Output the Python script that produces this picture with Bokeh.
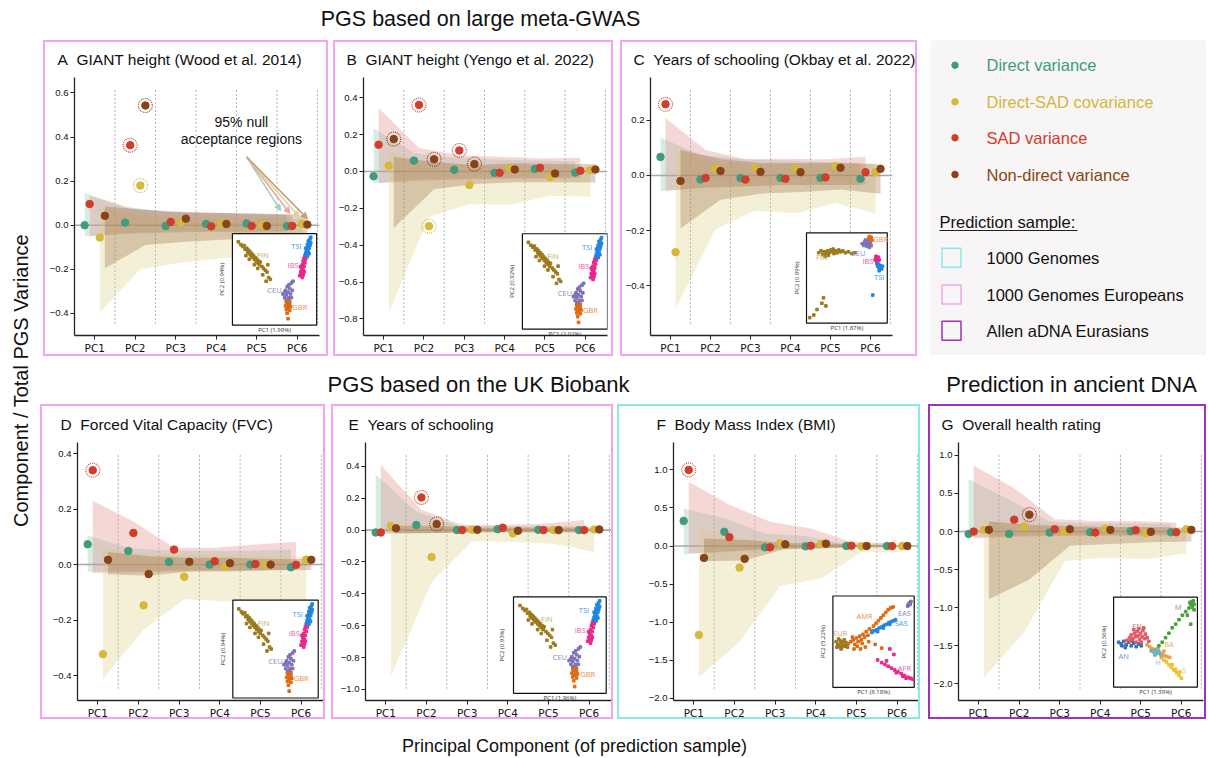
import math
from bokeh.plotting import figure
from bokeh.models import Range1d, FixedTicker, CustomJSTickFormatter, Span, Arrow, NormalHead, Spacer
from bokeh.layouts import row, column
from bokeh.embed import file_html
from bokeh.resources import INLINE
from bokeh.core.properties import value

# ---------------------------------------------------------------- data
PCS = [1, 2, 3, 4, 5, 6]
PC_LABELS = ["PC1", "PC2", "PC3", "PC4", "PC5", "PC6"]
SERIES = ["direct", "sad", "cov", "nondir"]
LEGEND_LABELS = ["Direct variance", "Direct-SAD covariance", "SAD variance", "Non-direct variance"]
SAMPLE_LABELS = ["1000 Genomes", "1000 Genomes Europeans", "Allen aDNA Eurasians"]

# Panel A  GIANT height (Wood et al. 2014)
A_direct = [0.0, 0.012, -0.003, 0.006, 0.008, -0.003]
A_sad = [0.096, 0.363, 0.015, -0.005, -0.003, -0.003]
A_cov = [-0.056, 0.18, 0.012, 0.008, 0.0, 0.006]
A_nondir = [0.043, 0.543, 0.03, 0.006, -0.003, 0.003]
A_direct_lo = [-0.05, -0.04, -0.035, -0.03, -0.03, -0.03]
A_direct_hi = [0.145, 0.085, 0.06, 0.055, 0.05, 0.05]
A_sad_lo = [-0.05, -0.035, -0.03, -0.03, -0.03, -0.025]
A_sad_hi = [0.135, 0.075, 0.06, 0.055, 0.055, 0.05]
A_cov_lo = [-0.395, -0.2, -0.17, -0.15, -0.14, -0.13]
A_cov_hi = [0.08, 0.045, 0.035, 0.03, 0.03, 0.03]
A_nondir_lo = [-0.195, -0.09, -0.075, -0.065, -0.06, -0.055]
A_nondir_hi = [0.085, 0.07, 0.06, 0.055, 0.05, 0.045]
A_sig = [("sad", 2), ("cov", 2), ("nondir", 2)]

# Panel B  GIANT height (Yengo et al. 2022)
B_direct = [-0.026, 0.059, 0.009, -0.007, 0.013, -0.006]
B_sad = [0.145, 0.361, 0.114, -0.007, 0.02, 0.004]
B_cov = [0.031, -0.297, -0.073, 0.018, -0.029, 0.007]
B_nondir = [0.176, 0.066, 0.04, 0.011, -0.011, 0.011]
B_direct_lo = [-0.063, -0.045, -0.04, -0.035, -0.035, -0.03]
B_direct_hi = [0.235, 0.1, 0.075, 0.065, 0.06, 0.055]
B_sad_lo = [-0.065, -0.05, -0.045, -0.04, -0.04, -0.035]
B_sad_hi = [0.345, 0.128, 0.088, 0.08, 0.071, 0.074]
B_cov_lo = [-0.765, -0.245, -0.178, -0.18, -0.132, -0.137]
B_cov_hi = [0.11, 0.04, 0.03, 0.03, 0.03, 0.025]
B_nondir_lo = [-0.307, -0.096, -0.068, -0.059, -0.058, -0.06]
B_nondir_hi = [0.079, 0.052, 0.035, 0.045, 0.04, 0.04]
B_sig = [("nondir", 1), ("sad", 2), ("cov", 2), ("nondir", 2), ("sad", 3), ("nondir", 3)]

# Panel C  Years of schooling (Okbay et al. 2022)
C_direct = [0.067, -0.015, -0.009, -0.009, -0.009, -0.012]
C_sad = [0.258, -0.009, -0.015, -0.012, -0.007, 0.012]
C_cov = [-0.278, 0.026, 0.028, 0.026, 0.034, 0.012]
C_nondir = [-0.02, 0.016, 0.013, 0.012, 0.028, 0.024]
C_direct_lo = [-0.057, -0.045, -0.04, -0.035, -0.035, -0.035]
C_direct_hi = [0.138, 0.075, 0.06, 0.055, 0.05, 0.045]
C_sad_lo = [-0.055, -0.045, -0.04, -0.035, -0.035, -0.035]
C_sad_hi = [0.208, 0.092, 0.059, 0.061, 0.059, 0.068]
C_cov_lo = [-0.486, -0.196, -0.127, -0.137, -0.1, -0.137]
C_cov_hi = [0.095, 0.045, 0.04, 0.04, 0.045, 0.045]
C_nondir_lo = [-0.192, -0.088, -0.066, -0.06, -0.051, -0.066]
C_nondir_hi = [0.093, 0.06, 0.045, 0.045, 0.045, 0.04]
C_sig = [("sad", 1)]

# Panel D  Forced Vital Capacity (FVC)
D_direct = [0.073, 0.049, 0.009, 0.0, 0.0, -0.01]
D_sad = [0.34, 0.114, 0.054, 0.012, 0.002, -0.001]
D_cov = [-0.323, -0.147, -0.044, -0.006, 0.0, 0.018]
D_nondir = [0.017, -0.034, 0.01, 0.005, 0.0, 0.017]
D_direct_lo = [-0.026, -0.025, -0.022, -0.02, -0.02, -0.02]
D_direct_hi = [0.106, 0.06, 0.05, 0.05, 0.05, 0.054]
D_sad_lo = [-0.03, -0.028, -0.025, -0.022, -0.022, -0.02]
D_sad_hi = [0.23, 0.155, 0.061, 0.061, 0.072, 0.082]
D_cov_lo = [-0.412, -0.235, -0.125, -0.132, -0.132, -0.13]
D_cov_hi = [0.061, 0.04, 0.035, 0.035, 0.03, 0.027]
D_nondir_lo = [-0.035, -0.04, -0.025, -0.025, -0.02, -0.02]
D_nondir_hi = [0.045, 0.03, 0.025, 0.025, 0.02, 0.02]
D_sig = [("sad", 1)]

# Panel E  Years of schooling (UK Biobank)
E_direct = [-0.015, 0.032, 0.0, 0.006, 0.002, 0.0]
E_sad = [-0.015, 0.205, 0.0, 0.015, 0.0, 0.0]
E_cov = [0.025, -0.169, 0.002, -0.021, 0.0, 0.004]
E_nondir = [0.011, 0.038, 0.002, -0.004, 0.0, 0.004]
E_direct_lo = [-0.021, -0.02, -0.015, -0.015, -0.015, -0.015]
E_direct_hi = [0.349, 0.116, 0.03, 0.025, 0.025, 0.025]
E_sad_lo = [-0.022, -0.02, -0.015, -0.015, -0.015, -0.015]
E_sad_hi = [0.408, 0.127, 0.032, 0.032, 0.04, 0.063]
E_cov_lo = [-0.92, -0.328, -0.07, -0.074, -0.085, -0.137]
E_cov_hi = [0.042, 0.03, 0.02, 0.02, 0.02, 0.02]
E_nondir_lo = [-0.02, -0.018, -0.012, -0.012, -0.012, -0.012]
E_nondir_hi = [0.027, 0.025, 0.015, 0.015, 0.015, 0.015]
E_sig = [("sad", 2), ("nondir", 2)]

# Panel F  Body Mass Index (BMI)
F_direct = [0.329, 0.187, -0.018, -0.004, 0.0, 0.0]
F_sad = [1.0, 0.116, -0.018, 0.004, 0.004, 0.0]
F_cov = [-1.169, -0.284, 0.036, 0.027, -0.004, 0.0]
F_nondir = [-0.156, -0.169, 0.022, 0.031, 0.0, 0.0]
F_direct_lo = [-0.111, -0.08, -0.05, -0.04, -0.02, -0.02]
F_direct_hi = [0.489, 0.364, 0.164, 0.129, 0.031, 0.03]
F_sad_lo = [-0.1, -0.07, -0.04, -0.03, -0.02, -0.02]
F_sad_hi = [0.844, 0.542, 0.32, 0.231, 0.053, 0.04]
F_cov_lo = [-1.724, -1.258, -0.524, -0.427, -0.08, -0.08]
F_cov_hi = [0.209, 0.1, 0.04, 0.03, 0.01, 0.01]
F_nondir_lo = [-0.2, -0.19, -0.04, -0.03, -0.01, -0.01]
F_nondir_hi = [0.1, 0.08, 0.04, 0.035, 0.01, 0.01]
F_sig = [("sad", 1)]

# Panel G  Overall health rating (aDNA)
G_direct = [-0.031, -0.031, -0.013, -0.009, 0.004, -0.009]
G_sad = [0.0, 0.156, 0.031, -0.013, 0.018, -0.009]
G_cov = [0.022, 0.067, 0.0, 0.036, -0.022, 0.031]
G_nondir = [0.022, 0.222, 0.031, 0.022, -0.004, 0.022]
G_direct_lo = [-0.076, -0.06, -0.05, -0.045, -0.045, -0.045]
G_direct_hi = [0.689, 0.42, 0.13, 0.11, 0.11, 0.1]
G_sad_lo = [-0.09, -0.07, -0.06, -0.055, -0.055, -0.05]
G_sad_hi = [0.867, 0.57, 0.16, 0.14, 0.14, 0.12]
G_cov_lo = [-1.92, -1.32, -0.387, -0.342, -0.364, -0.284]
G_cov_hi = [0.147, 0.08, 0.06, 0.05, 0.05, 0.04]
G_nondir_lo = [-0.889, -0.631, -0.187, -0.164, -0.142, -0.13]
G_nondir_hi = [0.133, 0.09, 0.07, 0.06, 0.06, 0.05]
G_sig = [("nondir", 2)]

# Inset PCA clusters (coordinates within each inset box, 0..1)
EU_FIN = [(0.07, 0.91), (0.10, 0.88), (0.12, 0.86), (0.14, 0.87), (0.15, 0.83), (0.17, 0.84), (0.18, 0.80),
          (0.19, 0.82), (0.20, 0.78), (0.21, 0.80), (0.22, 0.76), (0.23, 0.78), (0.24, 0.74), (0.25, 0.76),
          (0.26, 0.72), (0.27, 0.74), (0.28, 0.70), (0.29, 0.72), (0.30, 0.68), (0.31, 0.70), (0.32, 0.66),
          (0.33, 0.69), (0.35, 0.64), (0.37, 0.62), (0.39, 0.60), (0.41, 0.58), (0.43, 0.52), (0.45, 0.50),
          (0.40, 0.48), (0.36, 0.55), (0.26, 0.66), (0.30, 0.62), (0.42, 0.66), (0.20, 0.72), (0.16, 0.76)]
EU_TSI = [(0.86, 0.76), (0.87, 0.79), (0.88, 0.82), (0.89, 0.85), (0.90, 0.88), (0.91, 0.91), (0.92, 0.94),
          (0.88, 0.78), (0.90, 0.80), (0.91, 0.84), (0.89, 0.88), (0.92, 0.87), (0.93, 0.90), (0.90, 0.92),
          (0.87, 0.84), (0.91, 0.78), (0.93, 0.96), (0.89, 0.75)]
EU_IBS = [(0.80, 0.54), (0.81, 0.58), (0.82, 0.62), (0.83, 0.66), (0.84, 0.70), (0.85, 0.73), (0.82, 0.56),
          (0.84, 0.60), (0.85, 0.64), (0.83, 0.60), (0.86, 0.68), (0.81, 0.64), (0.84, 0.55), (0.87, 0.72),
          (0.83, 0.52), (0.85, 0.58)]
EU_CEU = [(0.60, 0.34), (0.62, 0.30), (0.63, 0.38), (0.64, 0.33), (0.65, 0.42), (0.66, 0.36), (0.67, 0.30),
          (0.68, 0.40), (0.69, 0.34), (0.70, 0.46), (0.71, 0.38), (0.66, 0.28), (0.68, 0.26), (0.64, 0.27),
          (0.70, 0.30), (0.72, 0.48), (0.67, 0.44), (0.62, 0.36)]
EU_GBR = [(0.63, 0.21), (0.64, 0.17), (0.65, 0.24), (0.66, 0.19), (0.67, 0.22), (0.68, 0.16), (0.65, 0.13),
          (0.67, 0.26), (0.69, 0.20), (0.66, 0.07), (0.64, 0.25), (0.68, 0.23)]

C_FIN = [(0.15, 0.78), (0.18, 0.80), (0.20, 0.76), (0.22, 0.79), (0.24, 0.77), (0.26, 0.80), (0.28, 0.78),
         (0.30, 0.81), (0.32, 0.79), (0.34, 0.77), (0.36, 0.80), (0.38, 0.78), (0.40, 0.81), (0.42, 0.79),
         (0.45, 0.80), (0.48, 0.78), (0.52, 0.79), (0.56, 0.77), (0.60, 0.78), (0.27, 0.75), (0.33, 0.82),
         (0.23, 0.74), (0.09, 0.09), (0.13, 0.15), (0.19, 0.22), (0.21, 0.28), (0.24, 0.19), (0.04, 0.06)]
C_CEU = [(0.69, 0.88), (0.71, 0.86), (0.72, 0.90), (0.74, 0.88), (0.75, 0.85), (0.76, 0.91), (0.77, 0.87),
         (0.78, 0.84), (0.79, 0.89), (0.73, 0.92), (0.80, 0.86)]
C_GBR = [(0.77, 0.94), (0.78, 0.96), (0.79, 0.93), (0.80, 0.95), (0.81, 0.92)]
C_IBS = [(0.85, 0.70), (0.86, 0.72), (0.87, 0.69), (0.88, 0.71), (0.89, 0.73), (0.90, 0.70), (0.86, 0.74),
         (0.88, 0.68)]
C_TSI = [(0.87, 0.66), (0.88, 0.63), (0.89, 0.65), (0.90, 0.61), (0.91, 0.64), (0.92, 0.62), (0.93, 0.60),
         (0.94, 0.63), (0.90, 0.58), (0.82, 0.31)]

KG_EUR = [(0.04, 0.50), (0.06, 0.47), (0.07, 0.53), (0.08, 0.45), (0.09, 0.51), (0.10, 0.48), (0.11, 0.44),
          (0.12, 0.50), (0.13, 0.46), (0.14, 0.52), (0.15, 0.45), (0.16, 0.49), (0.17, 0.47), (0.18, 0.44),
          (0.05, 0.44), (0.10, 0.42)]
KG_AMR = [(0.19, 0.48), (0.22, 0.50), (0.25, 0.52), (0.27, 0.47), (0.29, 0.54), (0.31, 0.50), (0.33, 0.56),
          (0.35, 0.52), (0.37, 0.58), (0.39, 0.55), (0.41, 0.61), (0.43, 0.57), (0.45, 0.64), (0.48, 0.62),
          (0.50, 0.67), (0.53, 0.70), (0.56, 0.73), (0.59, 0.76), (0.62, 0.79), (0.65, 0.82), (0.68, 0.85),
          (0.71, 0.87), (0.74, 0.88), (0.30, 0.45), (0.36, 0.48), (0.44, 0.50), (0.52, 0.47), (0.60, 0.43),
          (0.26, 0.42), (0.40, 0.44), (0.34, 0.42), (0.24, 0.55)]
KG_SAS = [(0.48, 0.60), (0.51, 0.62), (0.54, 0.63), (0.57, 0.65), (0.60, 0.66), (0.63, 0.68), (0.66, 0.69),
          (0.69, 0.71), (0.72, 0.72), (0.75, 0.73), (0.77, 0.74), (0.55, 0.61), (0.62, 0.65), (0.70, 0.69)]
KG_EAS = [(0.92, 0.89), (0.93, 0.91), (0.94, 0.92), (0.95, 0.93), (0.96, 0.94), (0.93, 0.90), (0.95, 0.91)]
KG_AFR = [(0.55, 0.30), (0.60, 0.27), (0.64, 0.25), (0.68, 0.23), (0.72, 0.21), (0.76, 0.19), (0.80, 0.17),
          (0.84, 0.15), (0.88, 0.13), (0.92, 0.11), (0.95, 0.10), (0.98, 0.09), (0.70, 0.42), (0.75, 0.36),
          (0.66, 0.29), (0.86, 0.12), (0.90, 0.10), (0.78, 0.16)]

AD_AN = [(0.06, 0.50), (0.09, 0.48), (0.12, 0.51), (0.15, 0.47), (0.18, 0.50), (0.21, 0.46), (0.24, 0.49),
         (0.27, 0.45), (0.30, 0.48), (0.33, 0.46), (0.14, 0.44), (0.22, 0.52), (0.10, 0.46)]
AD_EN = [(0.16, 0.52), (0.19, 0.55), (0.21, 0.58), (0.23, 0.54), (0.25, 0.60), (0.26, 0.56), (0.28, 0.62),
         (0.29, 0.57), (0.30, 0.65), (0.31, 0.53), (0.32, 0.60), (0.34, 0.56), (0.35, 0.63), (0.37, 0.54),
         (0.38, 0.59), (0.40, 0.55), (0.42, 0.51), (0.27, 0.50), (0.33, 0.50), (0.24, 0.64), (0.36, 0.66),
         (0.20, 0.51)]
AD_BA = [(0.40, 0.47), (0.43, 0.45), (0.46, 0.43), (0.49, 0.41), (0.52, 0.40), (0.55, 0.38), (0.58, 0.37),
         (0.61, 0.35), (0.64, 0.34), (0.67, 0.33), (0.45, 0.40), (0.53, 0.43), (0.60, 0.40), (0.50, 0.36),
         (0.57, 0.33)]
AD_H = [(0.45, 0.41), (0.48, 0.39), (0.50, 0.42), (0.52, 0.38), (0.54, 0.40), (0.56, 0.36), (0.49, 0.36)]
AD_S = [(0.60, 0.30), (0.63, 0.28), (0.66, 0.25), (0.69, 0.22), (0.72, 0.19), (0.75, 0.16), (0.78, 0.13),
        (0.81, 0.10), (0.70, 0.25), (0.74, 0.20), (0.79, 0.17)]
AD_M = [(0.54, 0.46), (0.58, 0.50), (0.62, 0.55), (0.66, 0.60), (0.70, 0.66), (0.74, 0.70), (0.78, 0.75),
        (0.82, 0.80), (0.86, 0.84), (0.90, 0.88), (0.92, 0.92), (0.93, 0.95), (0.94, 0.93), (0.95, 0.96),
        (0.96, 0.92), (0.91, 0.94), (0.94, 0.89), (0.88, 0.80), (0.92, 0.70), (0.96, 0.86)]

# ---------------------------------------------------------------- styles
OFFS = {"direct": -0.25, "sad": -0.125, "cov": 0.125, "nondir": 0.25}
COLS = {"direct": "#419b7d", "sad": "#d23c2a", "cov": "#d6b83a", "nondir": "#8a4319"}
BAND = {"direct": ("#7fbfa8", 0.30), "sad": ("#e39089", 0.35), "cov": ("#dccb7a", 0.30), "nondir": ("#8b5a2b", 0.28)}
PINK, CYAN, PURPLE = "#f3a4f0", "#8ce8e8", "#a22fc0"
TFONT = value("Liberation Sans")
SP2 = "\u00a0\u00a0"

C_FINc, C_TSIc, C_IBSc, C_CEUc, C_GBRc = "#9c7b1d", "#1f86e0", "#e8288c", "#7c72b8", "#de6a12"
EU_INSET = [(EU_FIN, C_FINc, "FIN", (0.36, 0.77), "#c9a86a"), (EU_TSI, C_TSIc, "TSI", (0.76, 0.86), "#3b9ae8"),
            (EU_IBS, C_IBSc, "IBS", (0.72, 0.66), "#ee5aa8"), (EU_CEU, C_CEUc, "CEU", (0.50, 0.38), "#8e86c6"),
            (EU_GBR, C_GBRc, "GBR", (0.80, 0.20), "#e88c48")]
C_INSET = [(C_FIN, C_FINc, "FIN", (0.19, 0.73), "#c9a86a"), (C_CEU, C_CEUc, "CEU", (0.64, 0.78), "#8e86c6"),
           (C_GBR, C_GBRc, "GBR", (0.92, 0.93), "#e88c48"), (C_IBS, C_IBSc, "IBS", (0.76, 0.69), "#ee5aa8"),
           (C_TSI, C_TSIc, "TSI", (0.90, 0.51), "#3b9ae8")]
KG_INSET = [(KG_EUR, C_FINc, "EUR", (0.09, 0.60), "#c9a86a"), (KG_AMR, "#e06a10", "AMR", (0.39, 0.78), "#ea8a50"),
            (KG_SAS, C_TSIc, "SAS", (0.84, 0.70), "#3b9ae8"), (KG_EAS, C_CEUc, "EAS", (0.88, 0.81), "#8e86c6"),
            (KG_AFR, C_IBSc, "AFR", (0.88, 0.21), "#ee5aa8")]
AD_INSET = [(AD_AN, "#3c6eb4", "AN", (0.12, 0.35), "#6c90c8"), (AD_EN, "#e05a68", "EN", (0.28, 0.68), "#e06a78"),
            (AD_BA, "#f0a040", "BA", (0.66, 0.48), "#f0a858"), (AD_H, "#6cb4c0", "H", (0.53, 0.28), "#80c0cc"),
            (AD_S, "#f0c030", "S", (0.84, 0.19), "#f0c850"), (AD_M, "#4aa03c", "M", (0.77, 0.89), "#70b060")]

YFMT = "if (Math.abs(tick) < 1e-9) { return '0.0'; } return tick.toFixed(1).replace('-', '\\u2212');"
XR = (0.5, 6.55)


def panel(title, pts, lo, hi, sig, yr, yticks, bcol, w, h, mb, box, inset, pcl):
    p = figure(width=w, height=h, x_range=Range1d(*XR), y_range=Range1d(*yr),
               toolbar_location=None, output_backend="svg",
               min_border_left=mb[0], min_border_right=mb[1], min_border_top=mb[2], min_border_bottom=mb[3])
    p.styles = {"border": "2px solid " + bcol}
    p.title.text = title
    p.title.align = "left"
    p.title.vertical_align = "top"
    p.title.offset = -17
    p.title.text_font = "Liberation Sans"
    p.title.text_font_size = "15.5px"
    p.title.text_font_style = "normal"
    p.title.text_color = "#111111"
    p.title.standoff = 15
    p.xgrid.visible = False
    p.ygrid.visible = False
    p.outline_line_color = None
    for ax in (p.xaxis[0], p.yaxis[0]):
        ax.axis_line_color = "#222222"
        ax.axis_line_width = 1.3
        ax.major_tick_line_color = "#222222"
        ax.major_tick_out = 4
        ax.major_tick_in = 0
        ax.minor_tick_line_color = None
        ax.major_label_text_color = "#111111"
        ax.major_label_standoff = 2
    p.xaxis.ticker = FixedTicker(ticks=PCS)
    p.xaxis.major_label_overrides = {k: lab for k, lab in zip(PCS, PC_LABELS)}
    p.xaxis.major_label_text_font = "DejaVu Sans"
    p.xaxis.major_label_text_font_size = "10.5px"
    p.yaxis.ticker = FixedTicker(ticks=yticks)
    p.yaxis.formatter = CustomJSTickFormatter(code=YFMT)
    p.yaxis.major_label_text_font = "Liberation Sans"
    p.yaxis.major_label_text_font_size = "9.5px"

    # zero line and PC separators
    p.add_layout(Span(location=0, dimension="width", line_color="#a9a9a9", line_width=1.6, level="underlay"))
    span = yr[1] - yr[0]
    seps = [k + 0.5 for k in PCS]
    p.segment(x0=seps, x1=seps, y0=[yr[0] + 0.045 * span] * 6, y1=[yr[1] - 0.045 * span] * 6,
              line_color="#b3b3b3", line_width=1, line_dash="2 2")

    # null acceptance regions
    for s in SERIES:
        xs = [k + OFFS[s] for k in PCS]
        c, a = BAND[s]
        p.varea(x=xs, y1=lo[s], y2=hi[s], fill_color=c, fill_alpha=a)

    # inset PCA
    bx0, bx1, by0, by1 = box
    p.extra_x_ranges = {"ix": Range1d((XR[0] - bx0) / (bx1 - bx0), (XR[1] - bx0) / (bx1 - bx0))}
    p.extra_y_ranges = {"iy": Range1d((yr[0] - by0) / (by1 - by0), (yr[1] - by0) / (by1 - by0))}
    kw = dict(x_range_name="ix", y_range_name="iy")
    p.quad(left=[0], right=[1], bottom=[0], top=[1], fill_color="white", line_color="#111111", line_width=1.2, **kw)
    for cl, col, lab, lpos, lcol in inset:
        p.scatter(x=[q[0] for q in cl], y=[q[1] for q in cl], marker="square", size=2.6,
                  fill_color=col, line_color=col, **kw)
    p.text(x=[it[3][0] for it in inset], y=[it[3][1] for it in inset], text=[it[2] for it in inset],
           text_color=[it[4] for it in inset], text_font=value("Open Sans"), text_font_size="7.5px",
           text_align="center", text_baseline="middle", **kw)
    p.text(x=[0.5], y=[-0.005], text=[pcl[0]], text_font=value("Open Sans"), text_font_size="6px",
           text_color="#333333", text_align="center", text_baseline="top", **kw)
    p.text(x=[-0.12], y=[0.5], text=[pcl[1]], text_font=value("Open Sans"), text_font_size="6px",
           text_color="#333333", text_align="center", text_baseline="middle", angle=math.pi / 2, **kw)

    # components
    for s in ["direct", "sad", "cov", "nondir"]:
        xs = [k + OFFS[s] for k in PCS]
        p.scatter(x=xs, y=pts[s], size=7.5, fill_color=COLS[s], line_color=COLS[s])
    for s, k in sig:
        p.scatter(x=[k + OFFS[s]], y=[pts[s][k - 1]], size=14, fill_color=None, line_color=COLS[s],
                  line_width=1.1, line_dash="1 1")
    return p


def pack(prefix):
    g = globals()
    pts = {s: g[prefix + "_" + s] for s in SERIES}
    lo = {s: g[prefix + "_" + s + "_lo"] for s in SERIES}
    hi = {s: g[prefix + "_" + s + "_hi"] for s in SERIES}
    return pts, lo, hi, g[prefix + "_sig"]


T1 = [-0.4, -0.2, 0.0, 0.2, 0.4, 0.6]
T2 = [-0.8, -0.6, -0.4, -0.2, 0.0, 0.2, 0.4]
T3 = [-0.4, -0.2, 0.0, 0.2]
T4 = [-0.4, -0.2, 0.0, 0.2, 0.4]
T5 = [-1.0, -0.8, -0.6, -0.4, -0.2, 0.0, 0.2, 0.4]
T6 = [-2.0, -1.5, -1.0, -0.5, 0.0, 0.5, 1.0]

pA = panel("A" + SP2 + "GIANT height (Wood et al. 2014)", *pack("A"), (-0.5, 0.67), T1, PINK, 285, 316,
           (29, 11, 34, 23), (4.4, 6.48, -0.453, -0.038), EU_INSET, ("PC1 (1.99%)", "PC2 (0.94%)"))
pB = panel("B" + SP2 + "GIANT height (Yengo et al. 2022)", *pack("B"), (-0.89, 0.51), T2, PINK, 280, 316,
           (26, 8, 35, 23), (4.44, 6.55, -0.855, -0.338), EU_INSET, ("PC1 (2.02%)", "PC2 (0.92%)"))
pC = panel("C" + SP2 + "Years of schooling (Okbay et al. 2022)", *pack("C"), (-0.58, 0.355), T3, PINK, 297, 316,
           (24, 27, 35, 23), (4.4, 6.42, -0.535, -0.208), C_INSET, ("PC1 (1.87%)", "PC2 (0.99%)"))
pD = panel("D" + SP2 + "Forced Vital Capacity (FVC)", *pack("D"), (-0.49, 0.44), T4, PINK, 285, 315,
           (35, 4, 36, 20), (4.32, 6.42, -0.481, -0.128), EU_INSET, ("PC1 (1.99%)", "PC2 (0.94%)"))
pE = panel("E" + SP2 + "Years of schooling", *pack("E"), (-1.07, 0.55), T5, PINK, 282, 315,
           (32, 4, 36, 20), (4.14, 6.42, -1.025, -0.419), EU_INSET, ("PC1 (1.96%)", "PC2 (0.93%)"))
pF = panel("F" + SP2 + "Body Mass Index (BMI)", *pack("F"), (-2.03, 1.36), T6, CYAN, 303, 315,
           (54, 3, 36, 20), (4.42, 6.42, -1.857, -0.657), KG_INSET, ("PC1 (8.18%)", "PC2 (5.22%)"))
pG = panel("G" + SP2 + "Overall health rating", *pack("G"), (-2.22, 1.17), T6, PURPLE, 278, 315,
           (27, 5, 36, 20), (4.33, 6.4, -2.045, -0.863), AD_INSET, ("PC1 (1.39%)", "PC2 (0.36%)"))

# annotation in panel A
pA.text(x=[4.62, 4.62], y=[0.47, 0.389], text=["95% null", "acceptance regions"], text_font=TFONT,
        text_font_size="14px", text_align="center", text_baseline="middle", text_color="#111111")
ARROW_ENDS = [(5.59, 0.066, "#9fd0bd"), (5.82, 0.053, "#eaa5a0"), (6.05, 0.038, "#e3d293"), (6.25, 0.03, "#c4a07a")]
for ex, ey, ac in ARROW_ENDS:
    pA.add_layout(Arrow(x_start=4.75, y_start=0.31, x_end=ex, y_end=ey, line_color=ac, line_width=1.5,
                        end=NormalHead(size=6, fill_color=ac, line_color=ac)))


def blank(w, h, bg="white"):
    # y coordinates count pixels down from the top of the figure
    f = figure(width=w, height=h, x_range=Range1d(0, w), y_range=Range1d(h, 0), toolbar_location=None,
               output_backend="svg", min_border=0)
    f.axis.visible = False
    f.xgrid.visible = False
    f.ygrid.visible = False
    f.outline_line_color = None
    f.background_fill_color = bg
    f.border_fill_color = bg
    if hasattr(f, "frame_align"):
        f.frame_align = False
    return f


# legend panel
LEG_COLS = [COLS["direct"], COLS["cov"], COLS["sad"], COLS["nondir"]]
LEG_TXT_COLS = ["#3f9b7d", "#d4b53b", "#d63a2a", "#8b4513"]
BOX_COLS = [CYAN, PINK, PURPLE]
lg = blank(276, 315, "#f7f5f6")
ly = [24.7, 61.3, 97.3, 134.0]
lg.scatter(x=[24.5] * 4, y=ly, size=6.5, fill_color=LEG_COLS, line_color=LEG_COLS)
lg.text(x=[56] * 4, y=ly, text=LEGEND_LABELS, text_color=LEG_TXT_COLS, text_font=TFONT, text_font_size="16.5px",
        text_baseline="middle")
lg.text(x=[9], y=[181], text=["Prediction sample:"], text_color="#111111", text_font=TFONT, text_font_size="16.5px",
        text_baseline="middle")
lg.segment(x0=[9], x1=[147], y0=[190], y1=[190], line_color="#222222", line_width=1)
sy = [217.3, 254.0, 290.3]
lg.rect(x=[21] * 3, y=sy, width=19, height=19, fill_color=None, line_color=BOX_COLS, line_width=1.5)
lg.text(x=[56] * 3, y=sy, text=SAMPLE_LABELS, text_color="#111111", text_font=TFONT, text_font_size="16.5px",
        text_baseline="middle")

# text strips (page has no margin: coordinates are those of the picture)
top = blank(1166, 40)
top.text(x=[440], y=[18], text=["PGS based on large meta-GWAS"], text_font=TFONT, text_font_size="21.5px",
         text_align="center", text_baseline="middle", text_color="#111111")
mid = blank(1166, 48)
mid.text(x=[438, 1031], y=[28, 28], text=["PGS based on the UK Biobank", "Prediction in ancient DNA"],
         text_font=TFONT, text_font_size="22px", text_align="center", text_baseline="middle", text_color="#111111")
bot = blank(1166, 38)
bot.text(x=[534], y=[26], text=["Principal Component (of prediction sample)"], text_font=TFONT,
         text_font_size="18px", text_align="center", text_baseline="middle", text_color="#111111")
ylab = blank(40, 757)
ylab.text(x=[20], y=[380], text=["Component / Total PGS Variance"], text_font=TFONT, text_font_size="20px",
          text_align="center", text_baseline="middle", angle=math.pi / 2, text_color="#111111")

row1 = row(Spacer(width=3, height=316), pA, Spacer(width=5, height=316), pB, Spacer(width=7, height=316), pC,
           Spacer(width=13, height=316), lg)
row2 = row(pD, Spacer(width=6, height=315), pE, Spacer(width=4, height=315), pF, Spacer(width=8, height=315), pG)
layout = row(ylab, column(top, row1, mid, row2, bot))

open("out.html", "w").write(file_html(layout, INLINE))
